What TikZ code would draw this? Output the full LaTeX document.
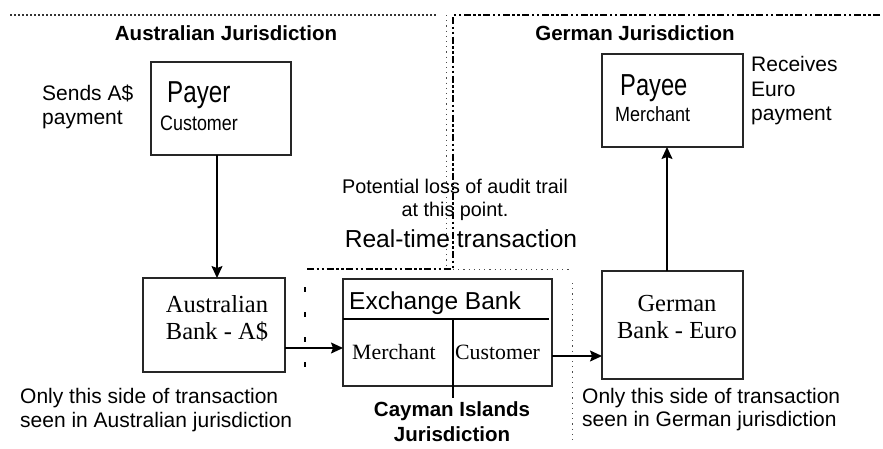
\documentclass[tikz,border=0pt]{standalone}
\usepackage{fontspec}
\setmainfont{Liberation Sans}
\newfontfamily\timesfnt{Liberation Serif}
\usepackage{graphicx}
\usepackage{tikz}
\usetikzlibrary{arrows.meta,positioning}

\tikzset{
  box/.style={draw=black!85, line width=1.3pt, inner sep=0pt, outer sep=0pt},
  arr/.style={line width=1.3pt, -{Stealth[length=12pt,width=11pt,inset=2pt]}},
  txt/.style={inner sep=0pt, font=\fontsize{21}{24.5}\selectfont},
  juris/.style={inner sep=0pt, font=\bfseries\fontsize{20.5}{25}\selectfont},
  banktxt/.style={inner sep=0pt, font=\timesfnt\fontsize{24.5}{27}\selectfont},
  ausline/.style={line width=1.2pt, black!80, dash pattern=on 2pt off 2pt},
  ausdots/.style={line width=1pt, black!70, dash pattern=on 1.2pt off 4pt},
  gerline/.style={line width=1.6pt, dash pattern=on 7pt off 2.5pt on 2.5pt off 2.5pt on 2.5pt off 2.5pt},
  caydash/.style={line width=1.3pt, dash pattern=on 5pt off 20pt}
}
\newcommand{\tallbox}[2]{\scalebox{1}[#1]{#2}}

\begin{document}
\begin{tikzpicture}[x=1pt,y=-1pt]
    \useasboundingbox (0,0) rectangle (883,448);

    % jurisdiction borders
    \draw[ausline] (10,15) -- (437,15);
    \draw[ausdots] (446,15) -- (446,268);
    \draw[gerline] (880,15) -- (453,15) -- (453,269);
    \draw[gerline] (307,269) -- (453,269);
    \draw[ausdots] (453,269) -- (570,269);
    \draw[caydash] (305,287) -- (305,382);
    \draw[ausdots] (572,283) -- (572,440);

    \node[juris, anchor=base] (austitle) at (226,40) {Australian Jurisdiction};
    \node[juris, anchor=base] (gertitle) at (635,40) {German Jurisdiction};
    \node[juris, align=center] (caytitle) at (452,422) {Cayman Islands\\Jurisdiction};

    % boxes
    \node[box, minimum width=140pt, minimum height=93pt] (payer) at (221,108.5) {};
    \node[box, minimum width=142pt, minimum height=94pt] (ausbank) at (214,325) {};
    \node[box, minimum width=209pt, minimum height=107pt] (exch) at (447.5,332.5) {};
    \node[box, minimum width=141pt, minimum height=108pt] (gerbank) at (672.5,325) {};
    \node[box, minimum width=141pt, minimum height=93pt] (payee) at (672.5,100.5) {};

    \draw[line width=1.3pt] ([yshift=13.5pt]exch.west) -- ++(206,0);
    \draw[line width=1.3pt] (453,319) -- (453,398);

    % box texts
    \node[inner sep=0pt, anchor=base west, font=\fontsize{24.2}{28}\selectfont] (payerlbl) at (167,102) {\tallbox{1.25}{Payer}};
    \node[inner sep=0pt, anchor=base west, font=\fontsize{17.9}{21}\selectfont] (payercust) at (160,130) {\tallbox{1.17}{Customer}};
    \node[inner sep=0pt, anchor=base west, font=\fontsize{23.7}{28}\selectfont] (payeelbl) at (620,95) {\tallbox{1.28}{Payee}};
    \node[inner sep=0pt, anchor=base west, font=\fontsize{18}{21}\selectfont] (payeemerch) at (615,121) {\tallbox{1.14}{Merchant}};
    \node[banktxt, align=center] (ausbanklbl) at (217,318.5) {Australian\\Bank - A\$};
    \node[banktxt, align=center] (gerbanklbl) at (677,317) {German\\Bank - Euro};
    \node[inner sep=0pt, anchor=base west, font=\fontsize{24.5}{28}\selectfont] (exchlbl) at (349,309) {Exchange Bank};
    \node[inner sep=0pt, anchor=base west, font=\timesfnt\fontsize{21.8}{25}\selectfont] (exchmerch) at (352,359) {Merchant};
    \node[inner sep=0pt, anchor=base west, font=\timesfnt\fontsize{21.8}{25}\selectfont] (exchcust) at (455,359) {Customer};

    % side notes
    \node[txt, align=left, anchor=west] (sends) at (42,107) {Sends A\$\\payment};
    \node[txt, align=left, anchor=west] (receives) at (751,91) {Receives\\Euro\\payment};
    \node[txt, align=center, font=\fontsize{19.8}{23}\selectfont] (audit) at (455,199.5) {Potential loss of audit trail\\at this point.};
    \node[inner sep=0pt, anchor=base, font=\fontsize{24.6}{28}\selectfont] (realtime) at (461,247) {Real-time transaction};
    \node[txt, align=left, anchor=west, font=\fontsize{21}{23.5}\selectfont] (ausside) at (20,410) {Only this side of transaction\\seen in Australian jurisdiction};
    \node[txt, align=left, anchor=west, font=\fontsize{21}{23.5}\selectfont] (gerside) at (582,409.5) {Only this side of transaction\\seen in German jurisdiction};

    % payment flow
    \draw[arr] ([xshift=-4pt]payer.south) -- ([xshift=3pt]ausbank.north);
    \coordinate (a2e) at ([yshift=-23pt]ausbank.east);
    \draw[arr] (a2e) -- (a2e -| exch.west);
    \coordinate (e2g) at ([yshift=-23.5pt]exch.east);
    \draw[arr] (e2g) -- (e2g -| gerbank.west);
    \draw[arr] ([xshift=-5.5pt]gerbank.north) -- ([xshift=-5.5pt]payee.south);
\end{tikzpicture}
\end{document}
